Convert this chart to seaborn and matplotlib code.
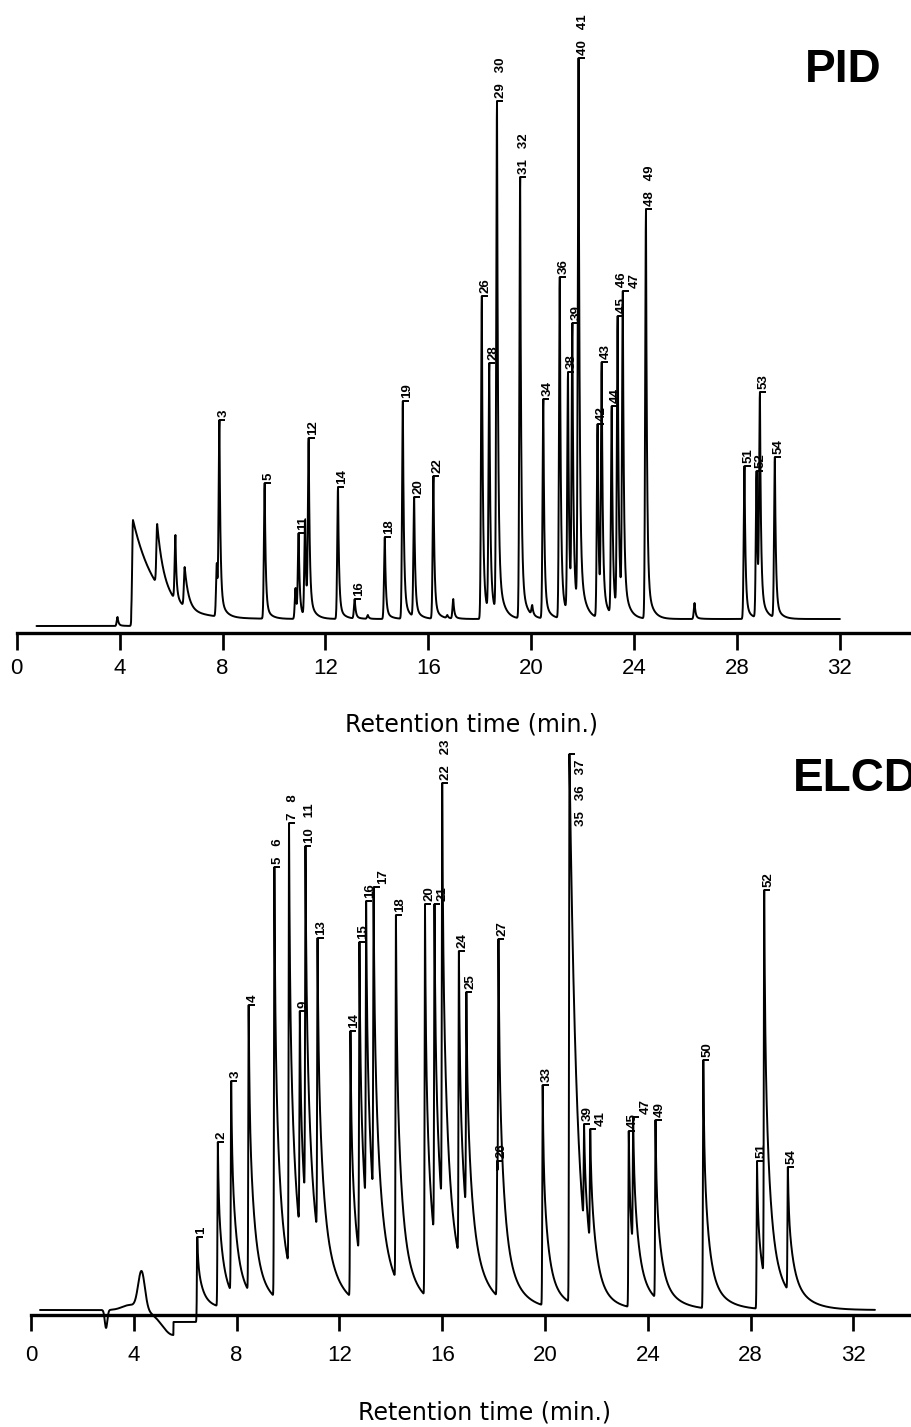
import numpy as np
import pandas as pd
import matplotlib
matplotlib.use("Agg")
import matplotlib.pyplot as plt
import seaborn as sns

# PID chromatogram: retention time (min), apex height above baseline, peak numbers
pid_time = [3.92, 6.17, 7.78, 7.88, 9.64, 10.84, 10.96, 11.21, 11.35, 12.49, 13.14, 13.65,
            14.31, 15.01, 15.45, 16.20, 16.74, 16.97, 18.08, 18.37, 18.67, 19.57, 20.04,
            20.47, 21.11, 21.43, 21.60, 21.84, 22.58, 22.74, 23.13, 23.36, 23.56, 24.46,
            26.35, 28.29, 28.76, 28.89, 29.47]
pid_height = [2, 84, 56, 199, 136, 31, 86, 99, 181, 132, 20, 4,
              82, 218, 122, 143, 4, 20, 323, 256, 518, 442, 14,
              220, 342, 247, 296, 561, 195, 257, 213, 303, 328, 410,
              16, 153, 148, 227, 162]
pid_label = ["", "", "", "3", "5", "", "11", "", "12", "14", "16", "",
             "18", "19", "20", "22", "", "", "26", "28", "29 30", "31 32", "",
             "34", "36", "38", "39", "40 41", "42", "43", "44", "45 46", "47", "48 49",
             "", "51", "52", "53", "54"]
# solvent front peaks with slow tails (time constant, min)
pid_solvent_time = [4.52, 5.46, 6.53]
pid_solvent_height = [99, 95, 52]
pid_solvent_tail = [0.9, 0.25, 0.15]
pid_run = (0.77, 32.0)
pid_front = 4.45
pid_pre_front_level = -7

# ELCD chromatogram
elcd_time = [6.47, 7.27, 7.79, 8.47, 9.47, 10.04, 10.46, 10.68, 11.15, 12.43, 12.78, 13.04,
             13.33, 14.20, 15.33, 15.70, 16.00, 16.65, 16.94, 18.14, 18.19, 19.91, 20.95,
             21.52, 21.76, 23.26, 23.43, 24.30, 26.16, 28.25, 28.53, 29.45]
elcd_height = [73, 168, 229, 305, 443, 487, 299, 464, 372, 279, 368, 409,
               423, 395, 406, 406, 527, 359, 318, 149, 371, 225, 556,
               186, 181, 179, 193, 190, 250, 149, 420, 143]
elcd_label = ["1", "2", "3", "4", "5 6", "7 8", "9", "10 11", "13", "14", "15", "16",
              "17", "18", "20", "21", "22 23", "24", "25", "26", "27", "33", "35 36 37",
              "39", "41", "45", "47", "49", "50", "51", "52", "54"]
elcd_slow = {20.95: 0.3}
elcd_run = (0.35, 32.84)
# baseline disturbances before the first peak
elcd_bump_time = [2.92, 3.85, 4.30]
elcd_bump_height = [-18, 5, 38]
elcd_bump_width = [0.05, 0.3, 0.13]
elcd_sag = (5.54, -25, 0.45)
elcd_step = (5.54, 6.45, -12)

ticks = list(range(0, 33, 4))


def peak_shape(dt, rise, parts):
    up = np.exp(-0.5 * (np.minimum(dt, 0) / rise) ** 2)
    d = np.maximum(dt, 0)
    down = sum(w * np.exp(-d / tau) for w, tau in parts)
    return np.where(dt < 0, up, down)


def chromatogram(t, times, heights, base, rise, parts, slow):
    shapes = [(rise, [(1.0, slow[p])] if p in slow else parts) for p in times]
    m = np.array([[peak_shape(ti - tj, *s) for tj, s in zip(times, shapes)] for ti in times])
    amps = np.linalg.solve(m, np.array(heights, float) - base(np.array(times)))
    y = base(t)
    for tj, a, s in zip(times, amps, shapes):
        y = y + a * peak_shape(t - tj, *s)
    return y


def pid_base(t):
    return np.where(np.asarray(t) < pid_front, pid_pre_front_level, 0.0)


def elcd_base(t):
    t = np.asarray(t, float)
    y = np.where((t >= elcd_step[0]) & (t < elcd_step[1]), elcd_step[2], 0.0)
    for c, h, w in zip(elcd_bump_time, elcd_bump_height, elcd_bump_width):
        y = y + h * np.exp(-0.5 * ((t - c) / w) ** 2)
    end, depth, width = elcd_sag
    y = y + np.where(t < end, depth * np.exp(-0.5 * ((t - end) / width) ** 2), 0.0)
    return y


all_pid_time = pid_time + pid_solvent_time
all_pid_height = pid_height + pid_solvent_height
t_pid = np.union1d(np.arange(*pid_run, 0.004), all_pid_time)
y_pid = chromatogram(t_pid, all_pid_time, all_pid_height, pid_base, 0.03,
                     [(0.9, 0.04), (0.1, 0.2)], dict(zip(pid_solvent_time, pid_solvent_tail)))
df_pid = pd.DataFrame({"time": t_pid, "signal": y_pid})

t_elcd = np.union1d(np.arange(*elcd_run, 0.004), elcd_time)
y_elcd = chromatogram(t_elcd, elcd_time, elcd_height, elcd_base, 0.015,
                      [(0.3, 0.03), (0.52, 0.18), (0.18, 0.6)], elcd_slow)
df_elcd = pd.DataFrame({"time": t_elcd, "signal": y_elcd})

sns.set_theme(style="white")
plt.rcParams["font.family"] = ["Liberation Sans", "DejaVu Sans"]
plt.rcParams["text.color"] = "black"
plt.rcParams["axes.labelcolor"] = "black"
plt.rcParams["xtick.color"] = "black"

fig = plt.figure(figsize=(9.12, 14.27), dpi=100)
ax_pid = fig.add_axes([0.01831, 0.5562, 0.98169, 0.4438])
ax_elcd = fig.add_axes([0.0340, 0.07849, 0.966, 0.4099])


def draw_panel(ax, df, times, heights, labels, xmax, ylim, tick_len, tick_pad):
    ax.patch.set_visible(False)
    sns.lineplot(data=df, x="time", y="signal", ax=ax, color="black", linewidth=1.4,
                 estimator=None, sort=False)
    ax.lines[-1].set_clip_on(False)
    ax.set_xlim(0, xmax)
    ax.set_ylim(*ylim)
    ax.set_yticks([])
    ax.set_ylabel("")
    ax.set_xticks(ticks)
    ax.tick_params(axis="x", direction="out", length=tick_len, width=1.95, labelsize=16,
                   pad=tick_pad, bottom=True)
    for side in ["left", "top", "right"]:
        ax.spines[side].set_visible(False)
    ax.spines["bottom"].set_linewidth(2.4)
    ax.spines["bottom"].set_color("black")
    notes = []
    for t, h, lab in zip(times, heights, labels):
        if not lab:
            continue
        ax.plot(t, h, marker=1, ms=4, mew=1.4, color="black", clip_on=False)
        note = ax.annotate(lab.replace(" ", "   "), xy=(t, h), xytext=(2.9, 2.5),
                           textcoords="offset points", rotation=90, ha="center", va="bottom",
                           fontsize=9.5, fontweight="bold", annotation_clip=False)
        notes.append(note)
    return notes


pid_notes = draw_panel(ax_pid, df_pid, pid_time, pid_height, pid_label, 34.80, (-14.3, 619), 12.2, 5.8)
elcd_notes = draw_panel(ax_elcd, df_elcd, elcd_time, elcd_height, elcd_label, 34.28, (-5, 580), 11.5, 10)

ax_pid.set_xlabel("Retention time (min.)", fontsize=17, family="DejaVu Sans", va="baseline")
ax_pid.xaxis.set_label_coords(0.508, -0.1554)
ax_elcd.set_xlabel("Retention time (min.)", fontsize=17, family="DejaVu Sans", va="baseline")
ax_elcd.xaxis.set_label_coords(0.515, -0.1791)

fig.text(805 / 912, 1 - 82 / 1427, "PID", fontsize=33, fontweight="bold", va="baseline")
fig.text(793 / 912, 1 - 791 / 1427, "ELCD", fontsize=33, fontweight="bold", va="baseline")

# labels that would run past the top of the panel go beside the peak,
# labels that collide with the previous one are nudged to the right
fig.canvas.draw()
r = fig.canvas.get_renderer()
for ax, notes in [(ax_pid, pid_notes), (ax_elcd, elcd_notes)]:
    top = ax.get_window_extent(r).y1
    for note in notes:
        if note.get_window_extent(r).y1 > top + 1:
            note.set_va("top")
            note.xyann = (8.6, -3.6)
    prev = None
    for note in notes:
        bb = note.get_window_extent(r)
        if prev is not None and bb.overlaps(prev):
            dx, dy = note.xyann
            note.xyann = (dx + (prev.x1 - bb.x0 + 1) * 72 / fig.dpi, dy)
            bb = note.get_window_extent(r)
        prev = bb

fig.savefig("out.png", dpi=100)
